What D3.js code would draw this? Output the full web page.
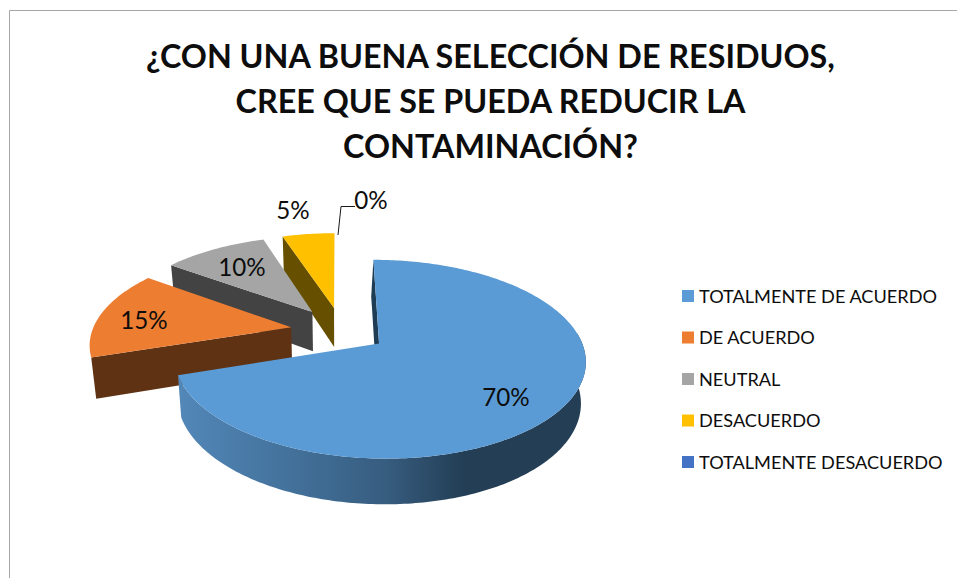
<!DOCTYPE html>
<html><head><meta charset="utf-8">
<script src="https://cdn.jsdelivr.net/npm/d3@7/dist/d3.min.js"></script>
<style>html,body{margin:0;padding:0;background:#fff}svg{display:block}text{font-family:Lato,"Open Sans",sans-serif;fill:#0d0d0d}</style>
</head><body><svg id="c" width="957" height="578"></svg>
<script>
const titleLines = ["¿CON UNA BUENA SELECCIÓN DE RESIDUOS,","CREE QUE SE PUEDA REDUCIR LA","CONTAMINACIÓN?"];
const categories = ["TOTALMENTE DE ACUERDO","DE ACUERDO","NEUTRAL","DESACUERDO","TOTALMENTE DESACUERDO"];
const values = [70,15,10,5,0];
const topColors = ["#5b9bd5","#ed7d31","#a5a5a5","#ffc000","#4472c4"];
const wallColors = ["#1f3c55","#5f3214","#434343","#665000","#1f3c55"];
const explode = [0.225,0.26,0.26,0.26,0.26];
const labelPos = [[506,397],[144,320],[242,267],[293,210],[371,200]];

const svg = d3.select("#c");
const H=578;
// frame: top and left edges only, the rest is cropped away
svg.append("path").attr("d",`M9.5 ${H}V10.5H957`).attr("fill","none").attr("stroke","#a6a6a6").attr("stroke-width",1);

// title
svg.selectAll(".t").data(titleLines).join("text").attr("class","t")
 .attr("x",490.5).attr("y",(d,i)=>67.5+i*45).attr("text-anchor","middle")
 .attr("font-size",32.3).attr("font-weight",700).text(d=>d);

// projection
const cx=342, cy=331, Rx=199, Ry=93, k=0.155, kDepth=0.11, depth=40, xv=340, tz=0.02, startWallShift=1.5;
const sx=d3.scaleLinear().domain([0,1]).range([cx,cx+Rx]);
const sy=d3.scaleLinear().domain([0,1]).range([cy,cy+Ry]);
const top3=(u,v)=>{const d=1-k*v;return [sx(u/d),sy(v/d)];};
const bot3=(u,v)=>{const p=top3(u,v);return [p[0]+(xv-p[0])*tz,p[1]+depth/(1-kDepth*v)];};

const rot=-0.2*Math.PI/180;
const pie=d3.pie().sort(null).value(d=>d).startAngle(rot).endAngle(2*Math.PI+rot);
const arcs=pie(values);
const line=d3.line();
const defs=svg.append("defs");
const grad=defs.append("linearGradient").attr("id","wall0").attr("gradientUnits","userSpaceOnUse").attr("x1",180).attr("x2",590).attr("y1",0).attr("y2",0);
[[0,"#5287b8"],[0.25,"#44739d"],[0.5,"#375d80"],[0.69,"#233e55"],[1,"#233e55"]].forEach(s=>grad.append("stop").attr("offset",s[0]).attr("stop-color",s[1]));

function geom(a,i){
  const mid=(a.startAngle+a.endAngle)/2, e=explode[i];
  const ou=e*Math.sin(mid), ov=-e*Math.cos(mid);
  const pt=t=>[ou+Math.sin(t),ov-Math.cos(t)];
  const n=Math.max(2,Math.ceil((a.endAngle-a.startAngle)*60));
  const ts=d3.range(n+1).map(j=>a.startAngle+(a.endAngle-a.startAngle)*j/n);
  return {apex:[ou,ov],pt,ts};
}
function drawSlice(i){
  const a=arcs[i]; if(values[i]===0) return;
  const g=geom(a,i), gr=svg.append("g");
  const P=g.ts.map(g.pt);
  const top=[g.apex,...P].map(p=>top3(p[0],p[1]));
  if(i===0){
    const s=g.pt(a.startAngle);
    const bs=bot3(...s), ba=bot3(...g.apex);
    gr.append("path").attr("d",line([top3(...s),top3(...g.apex),[ba[0]-startWallShift,ba[1]],[bs[0]-startWallShift,bs[1]]])+"Z").attr("fill",wallColors[0]);
    const front=P.filter(p=>p[1]-g.apex[1]>-0.12);
    const poly=[...front.map(p=>top3(p[0],p[1])),...front.slice().reverse().map(p=>bot3(p[0],p[1]))];
    gr.append("path").attr("d",line(poly)+"Z").attr("fill","url(#wall0)");
  } else {
    const s=P[0];
    gr.append("path").attr("d",line([top3(...s),top3(...g.apex),bot3(...g.apex),bot3(...s)])+"Z").attr("fill",wallColors[i]);
  }
  gr.append("path").attr("d",line(top)+"Z").attr("fill",topColors[i]);
}
[3,2,1,0].forEach(drawSlice);

// leader for 0%
svg.append("path").attr("d","M338 235L341 206.5H355").attr("fill","none").attr("stroke","#1a1a1a").attr("stroke-width",1);

// labels
svg.selectAll(".l").data(values).join("text").attr("class","l")
 .attr("x",(d,i)=>labelPos[i][0]).attr("y",(d,i)=>labelPos[i][1]+8.5).attr("text-anchor","middle")
 .attr("font-size",24.2).text(d=>d+"%");

// legend
const ly=d3.scalePoint().domain(categories).range([296,462]);
const lg=svg.selectAll(".lg").data(categories).join("g").attr("class","lg").attr("transform",d=>`translate(682,${ly(d)})`);
lg.append("rect").attr("x",0).attr("y",-6).attr("width",12).attr("height",12).attr("fill",(d,i)=>topColors[i]);
lg.append("text").attr("x",17).attr("y",6.5).attr("font-size",18.15).text(d=>d);
</script></body></html>
